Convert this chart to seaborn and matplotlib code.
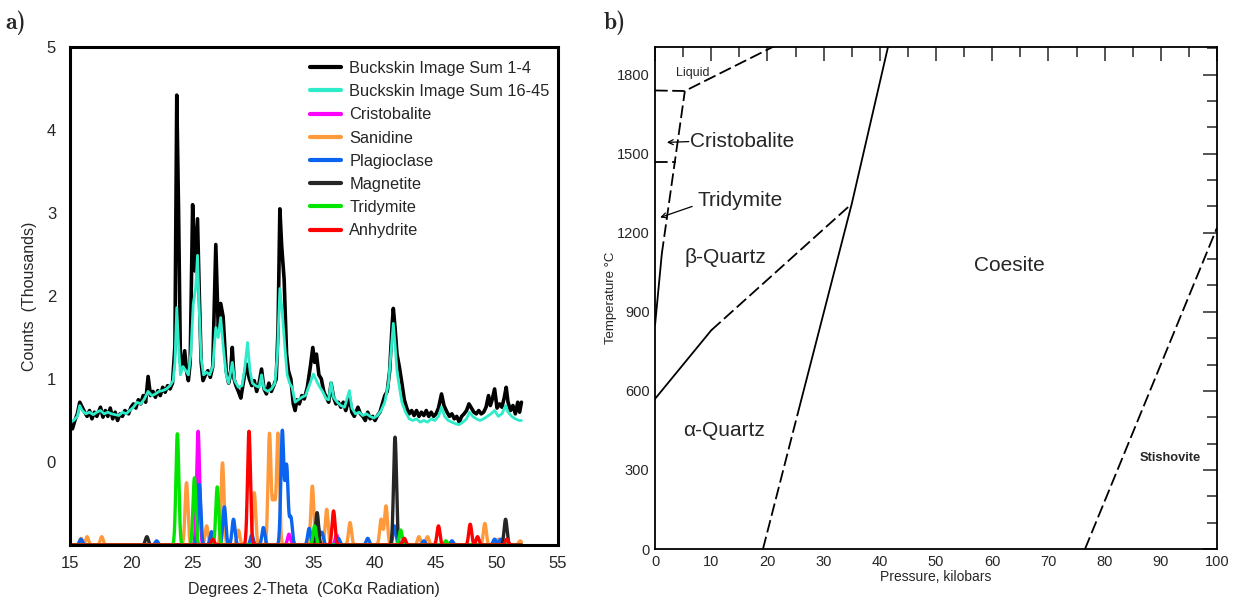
import numpy as np
import matplotlib
matplotlib.use("Agg")
import matplotlib.pyplot as plt
from matplotlib.ticker import MultipleLocator
import seaborn as sns

# ── panel a) observed patterns (2-theta, counts in thousands) ──────────
sum_1_4 = [
    (15.0, 0.45), (15.2, 0.40), (15.4, 0.50), (15.6, 0.58), (15.8, 0.72), (16.0, 0.66),
    (16.2, 0.60), (16.4, 0.55), (16.6, 0.62), (16.8, 0.52), (17.0, 0.60), (17.2, 0.55),
    (17.5, 0.66), (17.7, 0.54), (17.9, 0.62), (18.1, 0.55), (18.3, 0.65), (18.5, 0.52),
    (18.7, 0.60), (18.9, 0.50), (19.1, 0.58), (19.3, 0.55), (19.5, 0.62), (19.8, 0.58),
    (20.0, 0.66), (20.2, 0.70), (20.4, 0.65), (20.6, 0.75), (20.8, 0.70), (21.0, 0.80),
    (21.2, 0.72), (21.4, 1.03), (21.6, 0.80), (21.8, 0.85), (22.0, 0.78), (22.2, 0.86),
    (22.4, 0.80), (22.6, 0.90), (22.8, 0.84), (23.0, 0.92), (23.2, 0.88), (23.4, 0.95),
    (23.6, 1.40), (23.75, 4.42), (23.9, 3.00), (24.05, 1.20), (24.2, 1.15), (24.4, 1.34),
    (24.55, 1.10), (24.7, 0.98), (24.85, 1.20), (25.05, 3.10), (25.25, 2.30), (25.45, 2.93),
    (25.6, 2.00), (25.75, 1.20), (25.9, 0.98), (26.1, 1.05), (26.3, 1.10), (26.5, 1.02),
    (26.7, 1.15), (26.95, 2.62), (27.15, 1.60), (27.35, 1.91), (27.55, 1.75), (27.8, 1.10),
    (28.0, 0.95), (28.15, 1.05), (28.3, 1.38), (28.45, 1.00), (28.6, 0.92), (28.8, 0.85),
    (29.0, 0.77), (29.2, 0.95), (29.45, 1.18), (29.7, 1.00), (29.9, 0.92), (30.1, 0.98),
    (30.3, 0.85), (30.5, 0.95), (30.7, 1.12), (30.9, 0.88), (31.1, 0.82), (31.3, 0.95),
    (31.5, 0.85), (31.7, 0.92), (31.9, 1.00), (32.05, 1.60), (32.2, 3.05), (32.35, 2.60),
    (32.55, 2.20), (32.75, 1.30), (32.9, 1.10), (33.1, 1.00), (33.3, 0.70), (33.45, 0.62),
    (33.6, 0.75), (33.8, 0.70), (34.0, 0.80), (34.2, 0.76), (34.45, 0.90), (34.7, 1.15),
    (34.9, 1.38), (35.05, 1.20), (35.2, 1.30), (35.4, 1.05), (35.6, 1.00), (35.8, 0.85),
    (36.0, 0.78), (36.2, 0.72), (36.4, 0.95), (36.6, 0.78), (36.8, 0.70), (37.0, 0.72),
    (37.2, 0.66), (37.4, 0.72), (37.6, 0.62), (37.9, 0.78), (38.1, 0.60), (38.3, 0.55),
    (38.6, 0.66), (38.8, 0.58), (39.0, 0.55), (39.2, 0.50), (39.4, 0.60), (39.6, 0.52),
    (39.8, 0.55), (40.0, 0.50), (40.2, 0.56), (40.4, 0.60), (40.6, 0.70), (40.8, 0.80),
    (41.0, 0.85), (41.2, 1.10), (41.4, 1.65), (41.5, 1.85), (41.65, 1.60), (41.8, 1.30),
    (42.0, 1.14), (42.2, 0.95), (42.4, 0.75), (42.6, 0.65), (42.8, 0.58), (43.0, 0.62),
    (43.2, 0.56), (43.4, 0.62), (43.6, 0.55), (43.8, 0.60), (44.0, 0.56), (44.2, 0.62),
    (44.4, 0.55), (44.6, 0.60), (44.8, 0.55), (45.0, 0.58), (45.2, 0.65), (45.45, 0.82),
    (45.65, 0.68), (45.9, 0.60), (46.1, 0.55), (46.3, 0.58), (46.5, 0.52), (46.7, 0.55),
    (46.9, 0.48), (47.1, 0.55), (47.3, 0.58), (47.5, 0.62), (47.7, 0.70), (47.9, 0.65),
    (48.1, 0.60), (48.3, 0.58), (48.5, 0.62), (48.7, 0.58), (48.9, 0.60), (49.1, 0.66),
    (49.3, 0.80), (49.45, 0.68), (49.6, 0.75), (49.8, 0.88), (50.0, 0.65), (50.2, 0.70),
    (50.4, 0.66), (50.6, 0.78), (50.75, 0.90), (50.9, 0.72), (51.1, 0.62), (51.3, 0.68),
    (51.5, 0.58), (51.7, 0.72), (51.85, 0.60), (52.0, 0.72),
]
sum_16_45 = [
    (15.0, 0.48), (15.3, 0.50), (15.6, 0.55), (15.8, 0.68), (16.0, 0.62), (16.3, 0.58),
    (16.6, 0.60), (16.9, 0.57), (17.2, 0.60), (17.5, 0.62), (17.8, 0.58), (18.1, 0.60),
    (18.4, 0.58), (18.7, 0.57), (19.0, 0.56), (19.3, 0.60), (19.6, 0.58), (19.9, 0.62),
    (20.2, 0.66), (20.5, 0.72), (20.8, 0.70), (21.1, 0.76), (21.4, 0.85), (21.7, 0.80),
    (22.0, 0.82), (22.3, 0.85), (22.6, 0.86), (22.9, 0.88), (23.2, 0.92), (23.45, 0.98),
    (23.6, 1.20), (23.75, 1.86), (23.9, 1.40), (24.05, 1.05), (24.25, 1.15), (24.5, 1.10),
    (24.7, 1.05), (24.9, 1.30), (25.1, 1.90), (25.3, 2.10), (25.45, 2.49), (25.6, 1.80),
    (25.75, 1.25), (25.95, 1.05), (26.2, 1.08), (26.45, 1.05), (26.7, 1.15), (26.95, 1.62),
    (27.15, 1.50), (27.35, 1.74), (27.55, 1.40), (27.8, 1.05), (28.0, 0.95), (28.3, 1.20),
    (28.5, 0.98), (28.8, 0.90), (29.1, 0.92), (29.3, 1.10), (29.55, 1.44), (29.75, 1.10),
    (29.95, 0.95), (30.2, 0.92), (30.5, 0.90), (30.7, 1.05), (30.9, 0.88), (31.2, 0.85),
    (31.5, 0.88), (31.8, 0.95), (32.0, 1.30), (32.2, 2.09), (32.4, 1.80), (32.6, 1.40),
    (32.8, 1.05), (33.0, 0.95), (33.2, 0.90), (33.45, 0.72), (33.7, 0.75), (34.0, 0.78),
    (34.3, 0.80), (34.6, 0.92), (34.95, 1.06), (35.2, 0.98), (35.4, 0.92), (35.7, 0.85),
    (36.0, 0.76), (36.2, 0.75), (36.4, 0.96), (36.6, 0.78), (36.9, 0.72), (37.2, 0.68),
    (37.5, 0.66), (37.9, 0.86), (38.1, 0.65), (38.4, 0.58), (38.7, 0.60), (39.0, 0.56),
    (39.3, 0.58), (39.6, 0.55), (39.9, 0.53), (40.2, 0.56), (40.5, 0.62), (40.8, 0.72),
    (41.1, 0.95), (41.3, 1.30), (41.5, 1.67), (41.65, 1.40), (41.8, 1.10), (42.0, 0.90),
    (42.2, 0.72), (42.5, 0.60), (42.8, 0.52), (43.1, 0.50), (43.4, 0.52), (43.7, 0.48),
    (44.0, 0.50), (44.3, 0.48), (44.6, 0.52), (44.9, 0.50), (45.2, 0.55), (45.45, 0.66),
    (45.7, 0.55), (46.0, 0.50), (46.3, 0.48), (46.6, 0.46), (46.9, 0.45), (47.2, 0.48),
    (47.5, 0.52), (47.75, 0.60), (48.0, 0.55), (48.3, 0.52), (48.6, 0.50), (48.9, 0.52),
    (49.2, 0.55), (49.5, 0.58), (49.8, 0.62), (50.1, 0.55), (50.4, 0.58), (50.7, 0.68),
    (50.9, 0.60), (51.2, 0.55), (51.5, 0.52), (51.8, 0.50), (52.0, 0.50),
]

# ── panel a) reference phase peaks: (2-theta, peak top in thousands) ──
pattern_base = -1.0
cristobalite = [(25.5, 0.37), (32.95, -0.87), (36.85, -0.88)]
sanidine = [(15.9, -0.92), (16.4, -0.90), (17.6, -0.90), (24.55, -0.25), (26.2, -0.77),
            (27.5, -0.01), (28.8, -0.82), (30.1, -0.37), (31.35, 0.34), (31.7, -0.45),
            (32.05, 0.34), (34.86, -0.29), (36.04, -0.57), (37.95, -0.73), (40.5, -0.69),
            (40.9, -0.53), (43.6, -0.90), (44.3, -0.90), (49.0, -0.74), (50.1, -0.93),
            (51.9, -0.95)]
plagioclase = [(15.9, -0.93), (22.1, -0.95), (25.6, -0.27), (26.6, -0.84), (27.65, -0.54),
               (28.4, -0.69), (29.9, -0.88), (30.85, -0.79), (32.4, 0.37), (32.75, -0.05),
               (33.1, -0.67), (34.6, -0.80), (35.3, -0.77), (35.65, -0.85), (37.0, -0.92),
               (39.4, -0.92), (41.6, -0.77), (44.0, -0.95), (46.3, -0.95), (49.8, -0.93),
               (50.3, -0.93)]
magnetite = [(21.3, -0.90), (35.25, -0.61), (41.64, 0.30), (50.7, -0.69)]
tridymite = [(23.8, 0.34), (25.2, -0.19), (27.07, -0.30), (35.05, -0.77), (42.1, -0.82),
             (45.8, -0.95)]
anhydrite = [(26.7, -0.93), (29.67, 0.37), (36.6, -0.59), (42.4, -0.92), (45.2, -0.77),
             (47.8, -0.75), (48.4, -0.90), (50.8, -0.93)]

observed_labels = ["Buckskin Image Sum 1-4", "Buckskin Image Sum 16-45"]
phase_labels = ["Cristobalite", "Sanidine", "Plagioclase", "Magnetite", "Tridymite", "Anhydrite"]

# ── panel b) SiO2 phase diagram boundaries (kbar, deg C) ──────────────
solid_lines = [
    [(0, 570), (10, 830)],                   # alpha / beta quartz
    [(0, 850), (1.2, 1120)],                 # beta quartz / tridymite
    [(25.4, 515), (35, 1310), (41.5, 1910)], # quartz / coesite
]
dashed_lines = [
    [(10, 830), (35, 1310)],                 # alpha / beta quartz
    [(1.2, 1120), (5.3, 1738)],              # tridymite / cristobalite
    [(0, 1740), (5.3, 1738), (21.4, 1910)],  # liquidus
    [(0, 1470), (3.7, 1470)],                # tridymite / cristobalite
    [(19.2, 0), (25.4, 515)],                # quartz / coesite
    [(76.5, 0), (100, 1220)],                # coesite / stishovite
]
# region labels: (text, kbar, deg C)
regions = [("Cristobalite", 6.2, 1546), ("Tridymite", 7.6, 1323), ("\u03b2-Quartz", 5.3, 1107),
           ("Coesite", 56.8, 1076), ("\u03b1-Quartz", 5.0, 451)]
# pointer arrows: (from, to)
arrows = [((6.0, 1546), (2.1, 1543)), ((6.6, 1300), (0.9, 1258))]

# ── style ─────────────────────────────────────────────────────────────
sns.set_style("white")
plt.rcParams["font.family"] = ["Liberation Sans", "DejaVu Sans"]

obs_colors = ["black", "#2EEBC9"]
phase_colors = ["#FF00FF", "#FF9A3C", "#0A64F0", "#262626", "#00E600", "#FF0000"]

fig = plt.figure(figsize=(12.39, 6.01), dpi=100)
ax = fig.add_axes([0.0565, 0.0932, 0.3939, 0.8286])
bx = fig.add_axes([0.5287, 0.0865, 0.4536, 0.8353])

# -- panel a ------------------------------------------------------------
for series, col, lab, lw in zip([sum_1_4, sum_16_45], obs_colors, observed_labels, [2.6, 2.0]):
    xs, ys = zip(*series)
    sns.lineplot(x=list(xs), y=list(ys), ax=ax, color=col, lw=lw, sort=False,
                 estimator=None, label=lab)

grid = np.linspace(15.0, 52.0, 3000)
sigma = 0.12  # peak width (style)
for peaks, col, lab in zip([cristobalite, sanidine, plagioclase, magnetite, tridymite, anhydrite],
                           phase_colors, phase_labels):
    prof = np.zeros_like(grid)
    for pos, top in peaks:
        prof += (top - pattern_base) * np.exp(-0.5 * ((grid - pos) / sigma) ** 2)
    sns.lineplot(x=grid, y=prof + pattern_base, ax=ax, color=col, lw=2.4, sort=False,
                 estimator=None, label=lab)

ax.set_xlim(15, 55)
ax.set_ylim(-1, 5)
ax.set_xticks(np.arange(15, 56, 5))
ax.set_yticks(np.arange(0, 6, 1))
ax.tick_params(axis="x", length=0, labelsize=12, pad=8)
ax.tick_params(axis="y", direction="in", length=4, width=1.5, labelsize=12, pad=10)
for sp in ax.spines.values():
    sp.set_linewidth(2.2)
    sp.set_color("black")
ax.set_xlabel("Degrees 2-Theta  (CoK\u03b1 Radiation)", fontsize=11.5)
ax.set_ylabel("Counts  (Thousands)", fontsize=11.5)
ax.yaxis.set_label_coords(-0.068, 0.5)
ax.xaxis.set_label_coords(0.5, -0.075)
leg = ax.legend(loc="upper left", bbox_to_anchor=(0.478, 0.985), frameon=False,
                fontsize=11.8, handlelength=1.9, handletextpad=0.5, labelspacing=0.5,
                borderaxespad=0)
for h in leg.get_lines():
    h.set_linewidth(3)

# -- panel b ------------------------------------------------------------
for seg in solid_lines:
    xs, ys = zip(*seg)
    sns.lineplot(x=list(xs), y=list(ys), ax=bx, color="black", lw=1.3, sort=False,
                 estimator=None)
for seg in dashed_lines:
    xs, ys = zip(*seg)
    sns.lineplot(x=list(xs), y=list(ys), ax=bx, color="black", lw=1.3, sort=False,
                 estimator=None, linestyle=(0, (7, 2.5)))

bx.set_xlim(0, 100)
bx.set_ylim(0, 1905)
bx.xaxis.set_major_locator(MultipleLocator(10))
bx.xaxis.set_minor_locator(MultipleLocator(5))
bx.yaxis.set_major_locator(MultipleLocator(300))
bx.yaxis.set_minor_locator(MultipleLocator(100))
narrow = ["Liberation Sans Narrow", "Liberation Sans", "DejaVu Sans"]
bx.tick_params(which="both", direction="in", top=True, right=True, width=1.1)
bx.tick_params(which="major", length=10, labelsize=10.5, pad=4)
bx.tick_params(which="minor", length=7)
for t in bx.get_xticklabels() + bx.get_yticklabels():
    t.set_family(narrow)
for sp in bx.spines.values():
    sp.set_linewidth(1.3)
    sp.set_color("black")
bx.set_xlabel("Pressure, kilobars", fontsize=10, family=narrow, labelpad=1)
bx.set_ylabel("Temperature \u00b0C", fontsize=9.5, family=narrow)
bx.yaxis.set_label_coords(-0.068, 0.5)

for txt, px, ty in regions:
    bx.text(px, ty, txt, fontsize=15, va="center")
for (x0, y0), (x1, y1) in arrows:
    bx.annotate("", xy=(x1, y1), xytext=(x0, y0),
                arrowprops=dict(arrowstyle="->", lw=0.9, shrinkA=0, shrinkB=0,
                                mutation_scale=9, color="black"))
bx.text(3.7, 1808, "Liquid", fontsize=9, family=narrow, va="center")
bx.text(91.6, 345, "Stishovite", fontsize=9.3, va="center", ha="center", weight="bold")

fig.text(0.004, 0.962, "a)", family="cmb10", fontsize=17, va="center")
fig.text(0.487, 0.962, "b)", family="cmb10", fontsize=17, va="center")

fig.savefig("out.png", dpi=100)
